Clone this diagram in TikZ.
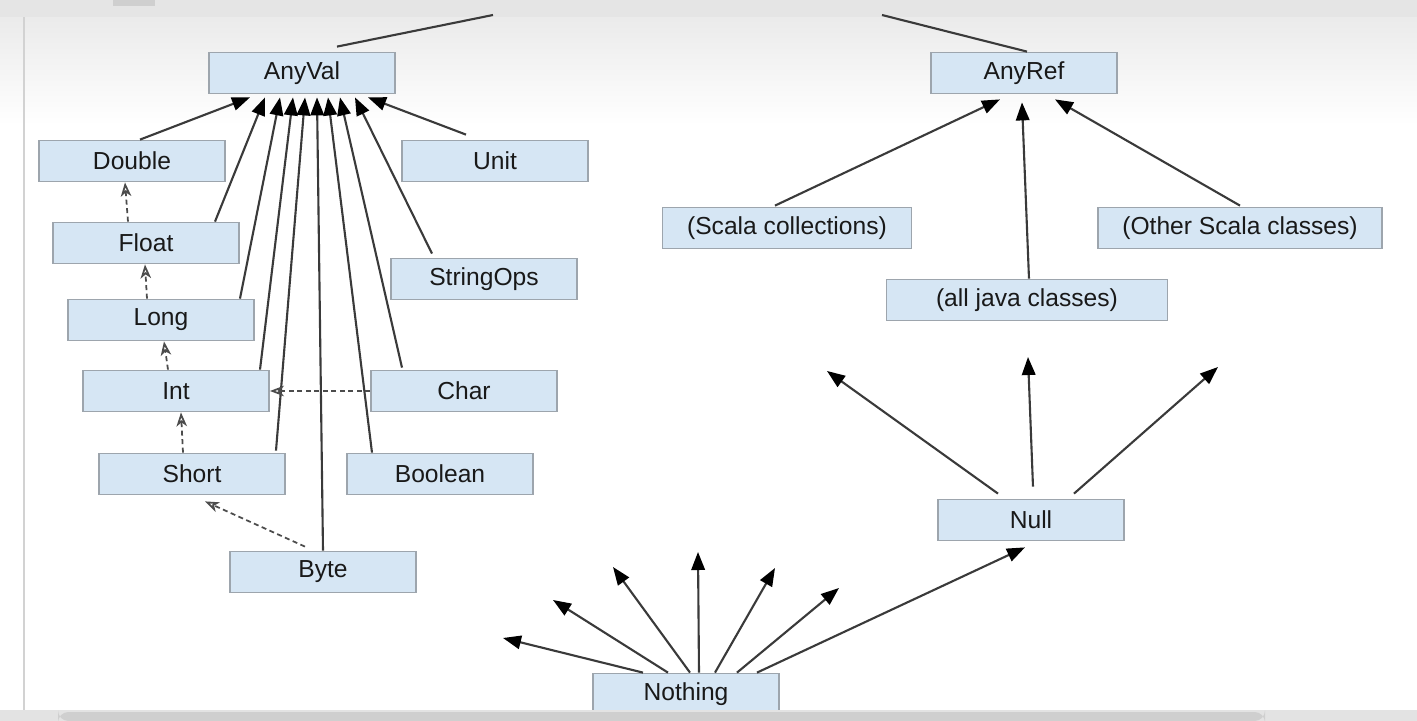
\documentclass[tikz,border=0pt]{standalone}
\usepackage{fontspec}
\setmainfont{Liberation Sans}
\usetikzlibrary{calc,arrows.meta}

\definecolor{boxblue}{HTML}{D6E6F4}
\definecolor{boxline}{HTML}{9DA5AD}
\definecolor{linegray}{HTML}{3A3A3A}

\begin{document}
\begin{tikzpicture}[x=0.01cm,y=-0.01cm,
	cls/.style={draw=boxline,fill=boxblue,line width=0.5pt,minimum width=1.86cm,minimum height=0.41cm,inner sep=0pt,text=black!90,font=\fontsize{7}{8}\selectfont},
	isa/.style={draw=linegray,line width=0.6pt,-{Triangle[length=1.8mm,width=1.35mm,color=black,fill=black]}},
	conv/.style={draw=black!70,line width=0.5pt,dash pattern=on 0.5mm off 0.35mm,-{Stealth[open,length=1.4mm,width=1.05mm,inset=0.4mm]}}]
	%\draw[help lines] (0,0) grid[step=100] (1417,721);
	\useasboundingbox (0,0) rectangle (1417,721);

	% window background
	\shade[top color=gray!16,bottom color=white] (0,17) rectangle (1417,125);
	\fill[gray!20] (0,0) rectangle (1417,17);
	\fill[gray!38] (113,0) rectangle (155,6);
	\draw[gray!35,line width=0.6pt] (24,17) -- (24,710);

	% value types
	\node[cls] (AnyVal) at (302,73) {AnyVal};
	\node[cls] (Double) at (132,161) {Double};
	\node[cls] (Unit) at (495,161) {Unit};
	\node[cls] (Float) at (146,243) {Float};
	\node[cls] (StringOps) at (484,279) {StringOps};
	\node[cls] (Long) at (161,320) {Long};
	\node[cls] (Int) at (176,391) {Int};
	\node[cls] (Char) at (464,391) {Char};
	\node[cls] (Short) at (192,474) {Short};
	\node[cls] (Boolean) at (440,474) {Boolean};
	\node[cls] (Byte) at (323,572) {Byte};

	% reference types
	\node[cls] (AnyRef) at (1024,73) {AnyRef};
	\node[cls,minimum width=2.49cm] (ScalaColl) at (787,228) {(Scala collections)};
	\node[cls,minimum width=2.84cm] (OtherScala) at (1240,228) {(Other Scala classes)};
	\node[cls,minimum width=2.81cm] (JavaCls) at (1027,300) {(all java classes)};
	\node[cls] (Null) at (1031,520) {Null};
	\node[cls] (Nothing) at (686,694) {Nothing};

	% free ends
	\coordinate (anyL) at (493,15);
	\coordinate (anyR) at (882,15);
	\coordinate (nullA) at (827,371);
	\coordinate (nullB) at (1028,357);
	\coordinate (nullC) at (1218,367);
	\coordinate (nothA) at (503,638);
	\coordinate (nothB) at (553,600);
	\coordinate (nothC) at (613,567);
	\coordinate (nothD) at (698,552);
	\coordinate (nothE) at (775,568);
	\coordinate (nothF) at (839,588);

	\draw[linegray,line width=0.6pt] ($(AnyVal.north)+(35,-5)$) -- (anyL);
	\draw[linegray,line width=0.6pt] ($(AnyRef.north)+(3,0)$) -- (anyR);

	\draw[isa] ($(Double.north)+(8,0)$) -- ($(AnyVal.south)+(-52,3)$);
	\draw[isa] ($(Float.north)+(69,0)$) -- ($(AnyVal.south)+(-37,3)$);
	\draw[isa] ($(Long.north)+(79,0)$) -- ($(AnyVal.south)+(-22,3)$);
	\draw[isa] ($(Int.north)+(84,0)$) -- ($(AnyVal.south)+(-9,3)$);
	\draw[isa] ($(Short.north)+(84,-2)$) -- ($(AnyVal.south)+(3,3)$);
	\draw[isa] (Byte.north) -- ($(AnyVal.south)+(15,3)$);
	\draw[isa] ($(Boolean.north)+(-68,0)$) -- ($(AnyVal.south)+(26,3)$);
	\draw[isa] ($(Char.north)+(-62,-2)$) -- ($(AnyVal.south)+(38,3)$);
	\draw[isa] ($(StringOps.north)+(-52,-4)$) -- ($(AnyVal.south)+(53,3)$);
	\draw[isa] ($(Unit.north)+(-29,-5)$) -- ($(AnyVal.south)+(66,3)$);

	\draw[conv] ($(Float.north)+(-18,0)$) -- ($(Double.south)+(-7,0)$);
	\draw[conv] ($(Long.north)+(-14,0)$) -- ($(Float.south)+(-1,0)$);
	\draw[conv] ($(Int.north)+(-8,0)$) -- ($(Long.south)+(3,0)$);
	\draw[conv] ($(Short.north)+(-9,0)$) -- ($(Int.south)+(5,0)$);
	\draw[conv] (Char.west) -- (Int.east);
	\draw[conv] ($(Byte.north)+(-18,-4)$) -- ($(Short.south)+(13,6)$);

	\draw[isa] ($(ScalaColl.north)+(-12,-1)$) -- ($(AnyRef.south)+(-24,5)$);
	\draw[isa] ($(JavaCls.north)+(2,0)$) -- ($(AnyRef.south)+(-2,8)$);
	\draw[isa] ($(OtherScala.north)+(0,-1)$) -- ($(AnyRef.south)+(31,5)$);

	\draw[isa] ($(Null.north)+(-33,-5)$) -- (nullA);
	\draw[isa] ($(Null.north)+(2,-12)$) -- (nullB);
	\draw[isa] ($(Null.north)+(43,-5)$) -- (nullC);

	\draw[isa] ($(Nothing.north)+(-43,0)$) -- (nothA);
	\draw[isa] ($(Nothing.north)+(-18,0)$) -- (nothB);
	\draw[isa] ($(Nothing.north)+(4,0)$) -- (nothC);
	\draw[isa] ($(Nothing.north)+(13,0)$) -- (nothD);
	\draw[isa] ($(Nothing.north)+(29,0)$) -- (nothE);
	\draw[isa] ($(Nothing.north)+(51,0)$) -- (nothF);
	\draw[isa] ($(Nothing.north)+(71,0)$) -- ($(Null.south)+(-6,6)$);

	% bottom bar
	\fill[gray!22] (0,710) rectangle (1417,721);
	\fill[gray!38,rounded corners=3pt] (58,712) rectangle (1265,721);
\end{tikzpicture}
\end{document}
